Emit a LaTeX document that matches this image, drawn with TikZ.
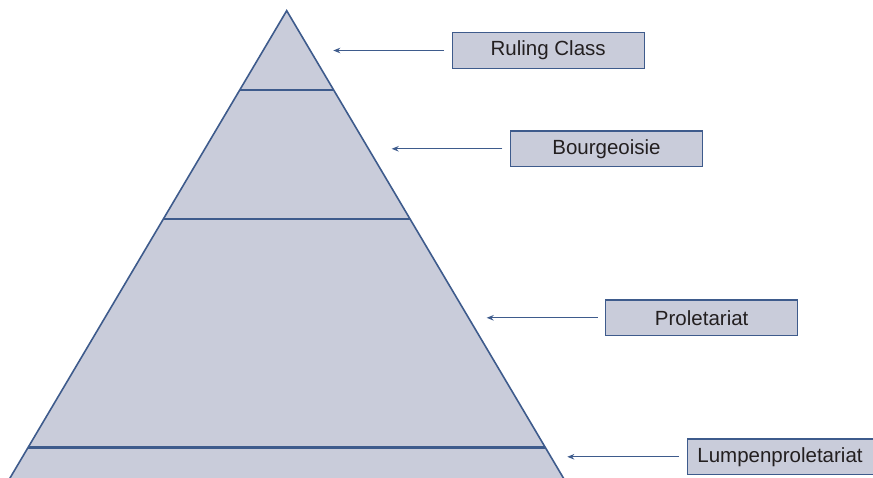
\documentclass[tikz,border=0pt]{standalone}
\usepackage{fontspec}
\setmainfont{Liberation Sans}
\usetikzlibrary{arrows.meta,calc}
\definecolor{pyrfill}{RGB}{201,204,218}
\definecolor{pyrline}{RGB}{62,91,140}
\definecolor{txt}{RGB}{35,31,32}
\tikzset{
  classbox/.style={draw=pyrline, line width=1.4pt, fill=pyrfill, minimum width=192pt, minimum height=35.5pt, inner sep=0pt, text=txt, font=\fontsize{20.5}{24}\selectfont},
  pointer/.style={draw=pyrline, line width=1.3pt, -{Stealth[length=7pt,width=5.5pt]}, shorten <=7.5pt},
  edge/.style={draw=pyrline, line width=1.6pt},
  layer/.style={draw=pyrline, line width=2.2pt}
}
\begin{document}
\begin{tikzpicture}[x=1pt,y=-1pt]
\useasboundingbox (0,0) rectangle (873,478);
\clip (0,0) rectangle (873,478);
% pyramid
\coordinate (apex) at (286.7,10.7);
\coordinate (bl) at (2.9,490);
\coordinate (br) at (570.5,490);
\fill[pyrfill] (apex) -- (bl) -- (br) -- cycle;
\draw[edge] (bl) -- (apex) -- (br);
\draw[layer] ($(apex)!0.1648!(bl)$) -- ($(apex)!0.1648!(br)$);
\draw[layer] ($(apex)!0.4352!(bl)$) -- ($(apex)!0.4352!(br)$);
\draw[layer] ($(apex)!0.9113!(bl)$) -- ($(apex)!0.9113!(br)$);
% labels
\node[classbox] (rc) at (548.2,50.5) {Ruling Class};
\node[classbox] (bg) at (606.5,148.8) {Bourgeoisie};
\node[classbox] (pr) at (701.7,317.8) {Proletariat};
\node[classbox, anchor=west, minimum width=0pt, text width=190pt, inner xsep=10pt, align=left] (lp) at (686.7,456.8) {Lumpenproletariat};
% arrow tips
\coordinate (trc) at (333.3,50.5);
\coordinate (tbg) at (391.7,148.8);
\coordinate (tpr) at (486.7,317.8);
\coordinate (tlp) at (567.3,456.8);
\draw[pointer] (rc.west) -- (trc);
\draw[pointer] (bg.west) -- (tbg);
\draw[pointer] (pr.west) -- (tpr);
\draw[pointer] (lp.west) -- (tlp);
\end{tikzpicture}
\end{document}
